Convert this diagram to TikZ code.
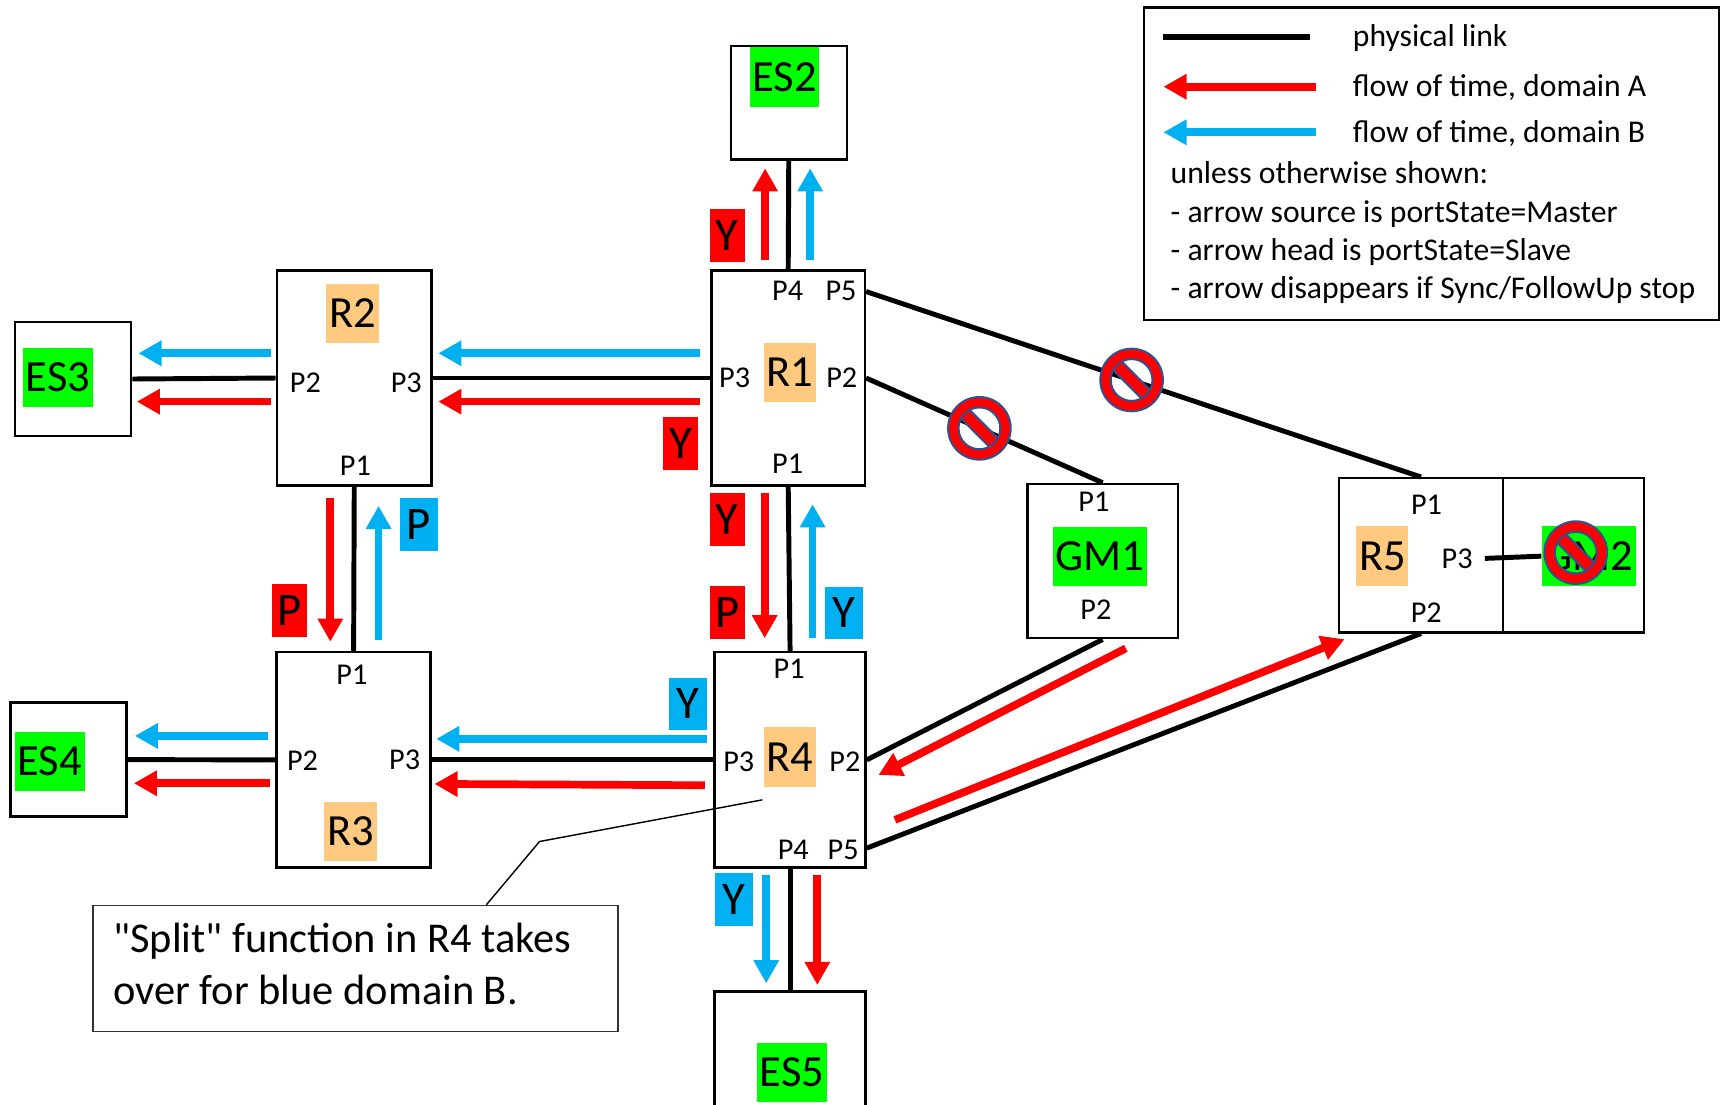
\documentclass[tikz,border=0pt]{standalone}
\usepackage{fontspec}
\setmainfont{Carlito}[Ligatures=TeXOff]
\usetikzlibrary{arrows.meta}
\definecolor{gGreen}{RGB}{0,255,0}
\definecolor{rOrange}{RGB}{255,201,128}
\definecolor{aRed}{RGB}{255,0,0}
\definecolor{bBlue}{RGB}{0,176,240}
\definecolor{signEdge}{RGB}{47,82,143}
\newcommand{\fPort}{\fontsize{27.5}{31}\selectfont}
\newcommand{\fBig}{\fontsize{40.5}{46}\selectfont}
\newcommand{\fLeg}{\fontsize{28.8}{34}\selectfont}
\newcommand{\fTag}{\fontsize{42.5}{48}\selectfont}
\newcommand{\fNote}{\fontsize{38.6}{46}\selectfont}
\begin{document}
\begin{tikzpicture}[x=1pt,y=-1pt,
  box/.style={draw, line width=2.2pt, inner sep=0pt},
  link/.style={line width=4.5pt},
  flowA/.style={draw=aRed, line width=7pt, -{Triangle[length=21pt,width=22pt]}},
  flowB/.style={flowA, draw=bBlue},
  port/.style={inner sep=0pt, font=\fPort},
  lbl/.style={inner xsep=2.5pt, inner ysep=0pt, minimum height=54pt, font=\fBig},
  lblG/.style={lbl, fill=gGreen},
  lblO/.style={lbl, fill=rOrange},
  tagA/.style={fill=aRed, inner sep=0pt, minimum width=32pt, minimum height=48pt, font=\fTag},
  tagB/.style={tagA, fill=bBlue, minimum width=34.5pt},
  legtext/.style={inner sep=0pt, anchor=base west, font=\fLeg},
  notetext/.style={inner sep=0pt, anchor=base west, font=\fNote},
  nosign/.pic={
    \begin{scope}
      \clip (0,0) circle[radius=19pt];
      \filldraw[fill=aRed, draw=signEdge, line width=1.8pt, rotate=-45] (-30,-5.5) rectangle (30,5.5);
    \end{scope}
    \filldraw[fill=aRed, draw=signEdge, line width=1.8pt, even odd rule]
      (0,0) circle[radius=28.5pt] (0,0) circle[radius=19pt];
  }
]
\useasboundingbox (0,0) rectangle (1568,1005);
\fill[white] (0,0) rectangle (1568,1005);

% ---------- boxes ----------
\node[box, minimum width=105.5pt, minimum height=103pt] (ES2) at (717.8,93.5) {};
\node[box, minimum width=139.5pt, minimum height=196pt] (R1) at (717.3,344) {};
\node[box, minimum width=140.8pt, minimum height=196pt] (R2) at (322.4,344) {};
\node[box, minimum width=106pt, minimum height=103.7pt] (ES3) at (66.4,344.9) {};
\node[box, minimum width=140pt, minimum height=196pt] (R3) at (321.8,691.5) {};
\node[box, minimum width=105.5pt, minimum height=103.7pt] (ES4) at (62.2,691.3) {};
\node[box, minimum width=137.4pt, minimum height=196pt] (R4) at (719,691.5) {};
\node[box, minimum width=137.4pt, minimum height=128pt] (ES5) at (719,966.3) {};
\node[box, minimum width=137pt, minimum height=140.4pt] (GM1) at (1003.4,510.6) {};
\node[box, minimum width=149.5pt, minimum height=140.2pt] (R5) at (1293.2,505.3) {};
\node[box, minimum width=128.1pt, minimum height=140.2pt] (GM2) at (1432,505.3) {};

% ---------- device labels ----------
\node[lblG] (ES2l) at (713.9,70.1) {ES2};
\node[lblO] (R1l) at (718.8,338.9) {R1};
\node[lblO] (R2l) at (320.7,285.1) {R2};
\node[lblG] (ES3l) at (52.8,343.3) {ES3};
\node[lblO] (R3l) at (319,756.5) {R3};
\node[lblG] (ES4l) at (45.2,693) {ES4};
\node[lblO] (R4l) at (719,689) {R4};
\node[lblG] (ES5l) at (720.8,975.9) {ES5};
\node[lblG] (GM1l) at (1000.9,506.2) {GM1};
\node[lblO] (R5l) at (1258,506.1) {R5};
\node[lblG] (GM2l) at (1445.7,506.1) {GM2};

% ---------- port labels ----------
\node[port] (R1p4) at (716.8,264.5) {P4};
\node[port] (R1p5) at (765.4,264.5) {P5};
\node[port] (R1p3) at (668.5,343.6) {P3};
\node[port] (R1p2) at (766,343.6) {P2};
\node[port] (R1p1) at (716.8,421.6) {P1};
\node[port] (R2p2) at (277.9,348.2) {P2};
\node[port] (R2p3) at (369.7,348.2) {P3};
\node[port] (R2p1) at (323.4,423.7) {P1};
\node[port] (R3p1) at (320.2,613.7) {P1};
\node[port] (R3p2) at (275.3,691.8) {P2};
\node[port] (R3p3) at (368.3,691.8) {P3};
\node[port] (R4p1) at (718.2,609) {P1};
\node[port] (R4p3) at (672.3,693) {P3};
\node[port] (R4p2) at (768.9,693) {P2};
\node[port] (R4p4) at (721.9,773.2) {P4};
\node[port] (R4p5) at (767.3,773.2) {P5};
\node[port] (GM1p1) at (995.5,457) {P1};
\node[port] (GM1p2) at (997.3,554.4) {P2};
\node[port] (R5p1) at (1298.2,459.5) {P1};
\node[port] (R5p3) at (1326,508.6) {P3};
\node[port] (R5p2) at (1298,557.2) {P2};

% ---------- physical links ----------
\draw[link] (ES2.south) -- (R1.north);
\draw[link] (R1.west) -- (R2.east);
\draw[link] (R2.west) -- (ES3.east);
\draw[link] (R2.south) -- (R3.north);
\draw[link] (R1.south) -- (R4.north);
\draw[link] (R4.west) -- (R3.east);
\draw[link] (R3.west) -- (ES4.east);
\draw[link] (R4.south) -- (ES5.north);
\draw[link] (R1.east) -- (GM1.north);
\draw[link] (R1.48.56) -- (R5.north);
\draw[link] (GM1.south) -- (R4.east);
\draw[link] (R5.south) -- (R4.-49.5);
\draw[link, shorten <=11pt] (R5p3.east) -- (GM2l.west);

% ---------- flows of time ----------
\draw[flowA] (696.3,236.6) -- (696.3,153.2);
\draw[flowB] (737.3,236.6) -- (737.3,153.2);
\draw[flowB] (637,321.5) -- (398.9,321.5);
\draw[flowA] (637,365.5) -- (398.9,365.5);
\draw[flowB] (247,321.5) -- (126,321.5);
\draw[flowA] (247,365.5) -- (124.5,365.5);
\draw[flowA] (300.6,453.4) -- (300.6,583.9);
\draw[flowB] (344.5,582.4) -- (344.5,460.4);
\draw[flowA] (695.9,448.9) -- (695.9,580.8);
\draw[flowB] (739.5,580.8) -- (739.5,458.9);
\draw[flowB] (643.5,672.4) -- (397,672.4);
\draw[flowA] (641.5,714.6) -- (395.4,713.4);
\draw[flowB] (243.9,669.7) -- (122.7,669.7);
\draw[flowA] (245.5,712.8) -- (121.8,712.8);
\draw[flowB] (697.3,796.2) -- (697.3,894.8);
\draw[flowA] (743.8,796.2) -- (743.8,896.3);
\draw[flowA] (1024.6,590) -- (799.5,705.2);
\draw[flowA] (814.4,746.1) -- (1223.6,581.7);

% ---------- tags ----------
\node[tagA] (t1) at (661.8,214.2) {Y};
\node[tagA] (t2) at (619.5,403.4) {Y};
\node[tagA] (t3) at (263.5,555.8) {P};
\node[tagB] (t4) at (381.3,477.5) {P};
\node[tagA] (t5) at (661.7,472.9) {Y};
\node[tagA] (t6) at (661.7,557.3) {P};
\node[tagB] (t7) at (768,557.8) {Y};
\node[tagB] (t8) at (626.3,640.6) {Y};
\node[tagB] (t9) at (668,818.8) {Y};

% ---------- prohibition signs ----------
\pic at (891.3,389.8) {nosign};
\pic at (1029.8,345.8) {nosign};
\pic at (1434,502.9) {nosign};

% ---------- callout ----------
\node[draw=black!80, line width=1.5pt, inner sep=0pt, minimum width=478pt, minimum height=114.6pt] (callout) at (323.6,881.4) {};
\node[notetext] (note1) at (103,867) {"Split" function in R4 takes};
\node[notetext] (note2) at (103,914) {over for blue domain B.};
\coordinate (splitpt) at (693.7,727.9);
\coordinate (elbow) at (491,765.8);
\draw[line width=1.3pt] (splitpt) -- (elbow) -- (callout.26.66);

% ---------- legend ----------
\node[draw, line width=2pt, inner sep=0pt, minimum width=522.6pt, minimum height=284.5pt] (legend) at (1302.7,149) {};
\coordinate (lk1) at (1058.8,33.4);
\coordinate (lk2) at (1192,33.4);
\draw[line width=5.5pt] (lk1) -- (lk2);
\coordinate (la1) at (1198,78.9);
\coordinate (la2) at (1058.8,78.9);
\draw[flowA] (la1) -- (la2);
\coordinate (lb1) at (1198,120.4);
\coordinate (lb2) at (1058.8,120.4);
\draw[flowB] (lb1) -- (lb2);
\node[legtext] (L1) at (1231,42.5) {physical link};
\node[legtext] (L2) at (1231,88) {flow of time, domain A};
\node[legtext] (L3) at (1231,129.8) {flow of time, domain B};
\node[legtext] (L4) at (1065.2,167.4) {unless otherwise shown:};
\node[legtext] (L5) at (1065.2,202.6) {- arrow source is portState=Master};
\node[legtext] (L6) at (1065.2,237.2) {- arrow head is portState=Slave};
\node[legtext] (L7) at (1065.2,271.5) {- arrow disappears if Sync/FollowUp stop};
\end{tikzpicture}
\end{document}
